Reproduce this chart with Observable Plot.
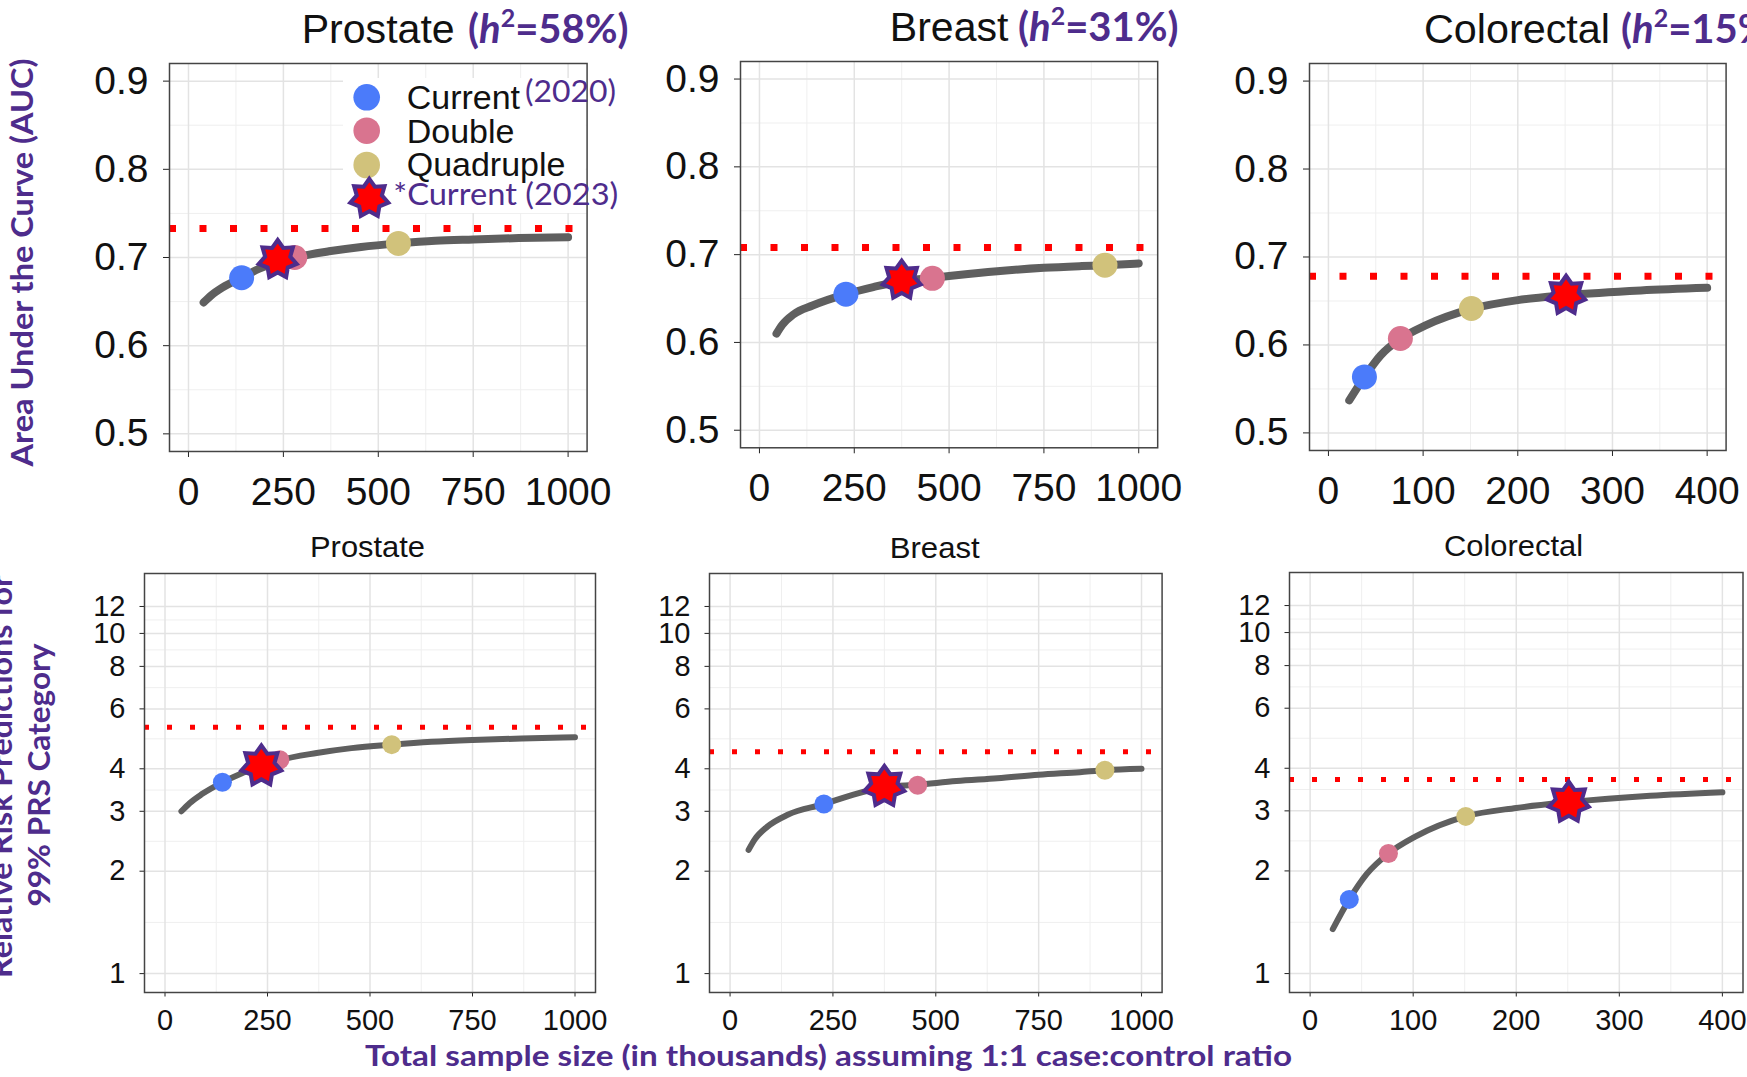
<!DOCTYPE html>
<html>
<head>
<meta charset="utf-8">
<script src="https://cdn.jsdelivr.net/npm/d3@7"></script>
<script src="https://cdn.jsdelivr.net/npm/@observablehq/plot@0.6"></script>
<style>
  html, body { margin: 0; padding: 0; background: #fff; overflow: hidden; }
  #stage { position: relative; width: 1747px; height: 1077px; overflow: hidden; background: #fff; }
  .panel { position: absolute; }
  .panel svg { overflow: visible; background: transparent; max-width: none; }
  .top svg text { font-size: 39px; font-family: "Liberation Sans", Arial, sans-serif; fill: #111; }
  .bot svg text { font-size: 29px; font-family: "Liberation Sans", Arial, sans-serif; fill: #111; }
  #overlay { position: absolute; left: 0; top: 0; pointer-events: none; }
</style>
</head>
<body>
<div id="stage"></div>
<script>
// ---------------- DATA ----------------
const groups = ["Current", "Double", "Quadruple"];
const groupColors = ["#4b7bfa", "#d9748f", "#d1c27b"];

// Prostate
const prostateCurveX   = [40, 60, 90, 140, 185, 235, 280, 370, 455, 553, 650, 750, 870, 1000];
const prostateCurveAUC = [0.649, 0.657, 0.666, 0.677, 0.687, 0.695, 0.700, 0.707, 0.712, 0.716, 0.719, 0.7205, 0.722, 0.723];
const prostateCurveRR  = [3.0, 3.17, 3.37, 3.65, 3.87, 4.07, 4.24, 4.45, 4.6, 4.71, 4.8, 4.86, 4.91, 4.95];
const prostatePointX   = [140, 280, 553];
const prostatePointAUC = [0.677, 0.700, 0.716];
const prostatePointRR  = [3.65, 4.25, 4.71];
const prostateStarX = 235, prostateStarAUC = 0.6977, prostateStarRR = 4.08;

// Breast
const breastCurveX   = [45, 60, 90, 140, 228, 300, 375, 456, 550, 650, 750, 850, 911, 1000];
const breastCurveAUC = [0.610, 0.620, 0.632, 0.642, 0.655, 0.663, 0.670, 0.6735, 0.678, 0.682, 0.685, 0.687, 0.688, 0.690];
const breastCurveRR  = [2.31, 2.48, 2.7, 2.93, 3.15, 3.36, 3.53, 3.59, 3.68, 3.75, 3.84, 3.91, 3.96, 4.0];
const breastPointX   = [228, 456, 911];
const breastPointAUC = [0.655, 0.673, 0.688];
const breastPointRR  = [3.15, 3.58, 3.96];
const breastStarX = 375, breastStarAUC = 0.671, breastStarRR = 3.55;

// Colorectal
const colorectalCurveX   = [22, 38, 55, 76, 102, 151, 200, 251, 330, 400];
const colorectalCurveAUC = [0.537, 0.5636, 0.588, 0.607, 0.622, 0.641, 0.651, 0.6565, 0.662, 0.665];
const colorectalCurveRR  = [1.35, 1.65, 1.96, 2.25, 2.52, 2.89, 3.06, 3.18, 3.32, 3.40];
const colorectalPointX   = [38, 76, 151];
const colorectalPointAUC = [0.5636, 0.6073, 0.6414];
const colorectalPointRR  = [1.65, 2.25, 2.89];
const colorectalStarX = 251, colorectalStarAUC = 0.6565, colorectalStarRR = 3.18;

// Ceiling (dotted red) lines
const ceilingAUC = [0.733, 0.708, 0.678];
const ceilingRR  = [5.3, 4.49, 3.71];

// Ticks
const xTicks1000 = [0, 250, 500, 750, 1000];
const xMinor1000 = [125, 375, 625, 875];
const xTicks400  = [0, 100, 200, 300, 400];
const xMinor400  = [50, 150, 250, 350];
const aucTicks   = [0.5, 0.6, 0.7, 0.8, 0.9];
const aucMinor   = [0.55, 0.65, 0.75, 0.85];
const rrTicks    = [1, 2, 3, 4, 6, 8, 10, 12];
const rrMinor    = [1.414, 2.449, 3.464, 4.899, 6.928, 8.944, 10.954];

// Text
const topTitles = ["Prostate", "Breast", "Colorectal"];
const heritability = ["58%", "31%", "15%"];
const bottomTitles = ["Prostate", "Breast", "Colorectal"];
const legendLabels = ["Current", "Double", "Quadruple"];
const yTitleTop = "Area Under the Curve (AUC)";
const yTitleBottom = ["Relative Risk Predictions for", "99% PRS Category"];
const xTitle = "Total sample size (in thousands) assuming 1:1 case:control ratio";

// ---------------- STYLE ----------------
const purple = "#4e2c8c";
const curveColor = "#5f5f5f";

const star7 = {
  draw(context, size) {
    const R = Math.sqrt(size / Math.PI);
    const r = R * 0.66;
    for (let i = 0; i < 14; i++) {
      const a = -Math.PI / 2 + i * Math.PI / 7;
      const rr = i % 2 === 0 ? R : r;
      const px = rr * Math.cos(a), py = rr * Math.sin(a);
      if (i === 0) context.moveTo(px, py); else context.lineTo(px, py);
    }
    context.closePath();
  }
};

const stage = document.getElementById("stage");

function makePanel(cfg) {
  const ml = 80, mr = 12, mt = 12, mb = 80;
  const w = cfg.R - cfg.L + ml + mr;
  const h = cfg.B - cfg.T + mt + mb;
  const curve = cfg.curveX.map((x, i) => ({x, y: cfg.curveY[i]}));
  const pts = cfg.pointX.map((x, i) => ({x, y: cfg.pointY[i], group: groups[i]}));
  const star = [{x: cfg.starX, y: cfg.starY}];
  const plot = Plot.plot({
    width: w, height: h,
    marginLeft: ml, marginRight: mr, marginTop: mt, marginBottom: mb,
    style: {background: "transparent", overflow: "visible", color: "#222"},
    x: {domain: cfg.xDomain, ticks: cfg.xTicks, tickFormat: d => String(d), tickSize: cfg.tickSize, tickPadding: cfg.xPad, label: null},
    y: {type: cfg.yType, domain: cfg.yDomain, ticks: cfg.yTicks, tickFormat: cfg.yFormat, tickSize: cfg.tickSize, tickPadding: cfg.yPad, label: null},
    color: {domain: groups, range: groupColors},
    marks: [
      Plot.ruleY(cfg.yMinor, {stroke: "#efefef", strokeWidth: 1}),
      Plot.ruleX(cfg.xMinor, {stroke: "#efefef", strokeWidth: 1}),
      Plot.ruleY(cfg.yTicks, {stroke: "#e3e3e3", strokeWidth: 1.5}),
      Plot.ruleX(cfg.xTicks, {stroke: "#e3e3e3", strokeWidth: 1.5}),
      Plot.ruleY([cfg.ceiling], {stroke: "#ff0000", strokeWidth: cfg.dotW, strokeDasharray: cfg.dash}),
      Plot.line(curve, {x: "x", y: "y", stroke: curveColor, strokeWidth: cfg.lineW, curve: "monotone-x"}),
      Plot.dot(pts, {x: "x", y: "y", fill: "group", r: cfg.dotR}),
      Plot.dot(star, {x: "x", y: "y", r: cfg.starR, symbol: star7, fill: "#ff0000", stroke: purple, strokeWidth: 4, strokeLinejoin: "miter"}),
      Plot.frame({stroke: "#444", strokeWidth: 1.5})
    ]
  });
  const div = document.createElement("div");
  div.className = "panel " + cfg.cls;
  div.style.left = (cfg.L - ml) + "px";
  div.style.top = (cfg.T - mt) + "px";
  div.appendChild(plot);
  stage.appendChild(div);
}

const topCommon = {
  cls: "top", yType: "linear", yDomain: [0.48, 0.92], yTicks: aucTicks, yMinor: aucMinor,
  yFormat: d3.format(".1f"), tickSize: 6, yPad: 15, xPad: 19.5, lineW: 8, dotR: 12.5, starR: 19.5, dotW: 7, dash: "7 23.5"
};
const botCommon = {
  cls: "bot", yType: "log", yDomain: [0.88, 15], yTicks: rrTicks, yMinor: rrMinor,
  yFormat: d => String(d), tickSize: 4.5, yPad: 14.5, xPad: 12.5, lineW: 6, dotR: 9.5, starR: 20.5, dotW: 5, dash: "5 18"
};

makePanel({...topCommon, L: 169.4, T: 62.7, R: 587, B: 450.7, xDomain: [-50, 1050], xTicks: xTicks1000, xMinor: xMinor1000,
  curveX: prostateCurveX, curveY: prostateCurveAUC, pointX: prostatePointX, pointY: prostatePointAUC,
  starX: prostateStarX, starY: prostateStarAUC, ceiling: ceilingAUC[0]});
makePanel({...topCommon, L: 739.8, T: 61, R: 1157, B: 447.3, xDomain: [-50, 1050], xTicks: xTicks1000, xMinor: xMinor1000,
  curveX: breastCurveX, curveY: breastCurveAUC, pointX: breastPointX, pointY: breastPointAUC,
  starX: breastStarX, starY: breastStarAUC, ceiling: ceilingAUC[1]});
makePanel({...topCommon, L: 1308.8, T: 63, R: 1725.4, B: 450, xDomain: [-20, 420], xTicks: xTicks400, xMinor: xMinor400,
  curveX: colorectalCurveX, curveY: colorectalCurveAUC, pointX: colorectalPointX, pointY: colorectalPointAUC,
  starX: colorectalStarX, starY: colorectalStarAUC, ceiling: ceilingAUC[2]});

makePanel({...botCommon, L: 144, T: 572.7, R: 595, B: 991.7, xDomain: [-50, 1050], xTicks: xTicks1000, xMinor: xMinor1000,
  curveX: prostateCurveX, curveY: prostateCurveRR, pointX: prostatePointX, pointY: prostatePointRR,
  starX: prostateStarX, starY: prostateStarRR, ceiling: ceilingRR[0]});
makePanel({...botCommon, L: 709.3, T: 573, R: 1161.9, B: 992, xDomain: [-50, 1050], xTicks: xTicks1000, xMinor: xMinor1000,
  curveX: breastCurveX, curveY: breastCurveRR, pointX: breastPointX, pointY: breastPointRR,
  starX: breastStarX, starY: breastStarRR, ceiling: ceilingRR[1]});
makePanel({...botCommon, L: 1289.2, T: 572, R: 1742.7, B: 992, xDomain: [-20, 420], xTicks: xTicks400, xMinor: xMinor400,
  curveX: colorectalCurveX, curveY: colorectalCurveRR, pointX: colorectalPointX, pointY: colorectalPointRR,
  starX: colorectalStarX, starY: colorectalStarRR, ceiling: ceilingRR[2]});

// ---------------- OVERLAY TEXT / LEGEND ----------------
const svg = d3.select(stage).append("svg")
  .attr("id", "overlay").attr("width", 1747).attr("height", 1077);

const sans = "'Liberation Sans', Arial, sans-serif";
const cal = "Lato, 'Open Sans', sans-serif";

// Top titles
const titlePos = [
  {x: 301.7, y: 43.3, w: 153, hx: 468},
  {x: 889.8, y: 40.5, w: 118.6, hx: 1018},
  {x: 1424, y: 43.3, w: 186, hx: 1621}
];
titlePos.forEach((p, i) => {
  svg.append("text").attr("x", p.x).attr("y", p.y)
    .attr("font-family", sans).attr("font-size", 40).attr("fill", "#111")
    .attr("textLength", p.w).attr("lengthAdjust", "spacingAndGlyphs")
    .text(topTitles[i]);
  const t = svg.append("text").attr("x", p.hx).attr("y", p.y)
    .attr("font-family", cal).attr("font-weight", 700).attr("font-size", 40).attr("fill", purple);
  t.append("tspan").text("(");
  t.append("tspan").attr("font-style", "italic").text("h");
  t.append("tspan").attr("font-size", 25).attr("dy", -16).text("2");
  t.append("tspan").attr("dy", 16).text("=" + heritability[i] + ")");
});

// Bottom titles
const botTitlePos = [
  {x: 367.5, y: 557.3, w: 115},
  {x: 934.7, y: 557.5, w: 90},
  {x: 1513.5, y: 556, w: 139}
];
botTitlePos.forEach((p, i) => {
  svg.append("text").attr("x", p.x).attr("y", p.y).attr("text-anchor", "middle")
    .attr("font-family", sans).attr("font-size", 30).attr("fill", "#111")
    .attr("textLength", p.w).attr("lengthAdjust", "spacingAndGlyphs")
    .text(bottomTitles[i]);
});

// Legend (white key box)
svg.append("rect").attr("x", 343).attr("y", 78).attr("width", 242.8).attr("height", 135).attr("fill", "#fff");
const legY = [97.3, 130.7, 165];
const legBase = [109.3, 142.7, 176];
groups.forEach((g, i) => {
  svg.append("circle").attr("cx", 366.7).attr("cy", legY[i]).attr("r", 13.3).attr("fill", groupColors[i]);
  svg.append("text").attr("x", 406.7).attr("y", legBase[i])
    .attr("font-family", sans).attr("font-size", 34).attr("fill", "#111").text(legendLabels[i]);
});
svg.append("text").attr("x", 525).attr("y", 101.7).attr("font-family", cal).attr("font-size", 30)
  .attr("fill", purple).attr("textLength", 91).attr("lengthAdjust", "spacingAndGlyphs").text("(2020)");
svg.append("path").attr("d", d3.symbol(star7, Math.PI * 19.5 * 19.5)())
  .attr("transform", "translate(369.3,198.3)")
  .attr("fill", "#ff0000").attr("stroke", purple).attr("stroke-width", 4);
svg.append("text").attr("x", 393.3).attr("y", 205).attr("font-family", cal).attr("font-size", 31)
  .attr("fill", purple).attr("textLength", 225).attr("lengthAdjust", "spacingAndGlyphs").text("*Current (2023)");

// Axis titles
svg.append("text").attr("transform", "translate(33.3,262.5) rotate(-90)").attr("text-anchor", "middle")
  .attr("font-family", cal).attr("font-weight", 700).attr("font-size", 30).attr("fill", purple)
  .attr("textLength", 408).attr("lengthAdjust", "spacingAndGlyphs").text(yTitleTop);
svg.append("text").attr("transform", "translate(11.7,776.5) rotate(-90)").attr("text-anchor", "middle")
  .attr("font-family", cal).attr("font-weight", 700).attr("font-size", 30).attr("fill", purple)
  .attr("textLength", 403).attr("lengthAdjust", "spacingAndGlyphs").text(yTitleBottom[0]);
svg.append("text").attr("transform", "translate(50,775) rotate(-90)").attr("text-anchor", "middle")
  .attr("font-family", cal).attr("font-weight", 700).attr("font-size", 30).attr("fill", purple)
  .attr("textLength", 263).attr("lengthAdjust", "spacingAndGlyphs").text(yTitleBottom[1]);
svg.append("text").attr("x", 365).attr("y", 1066)
  .attr("font-family", cal).attr("font-weight", 700).attr("font-size", 29).attr("fill", purple)
  .attr("textLength", 927).attr("lengthAdjust", "spacingAndGlyphs").text(xTitle);
</script>
</body>
</html>
